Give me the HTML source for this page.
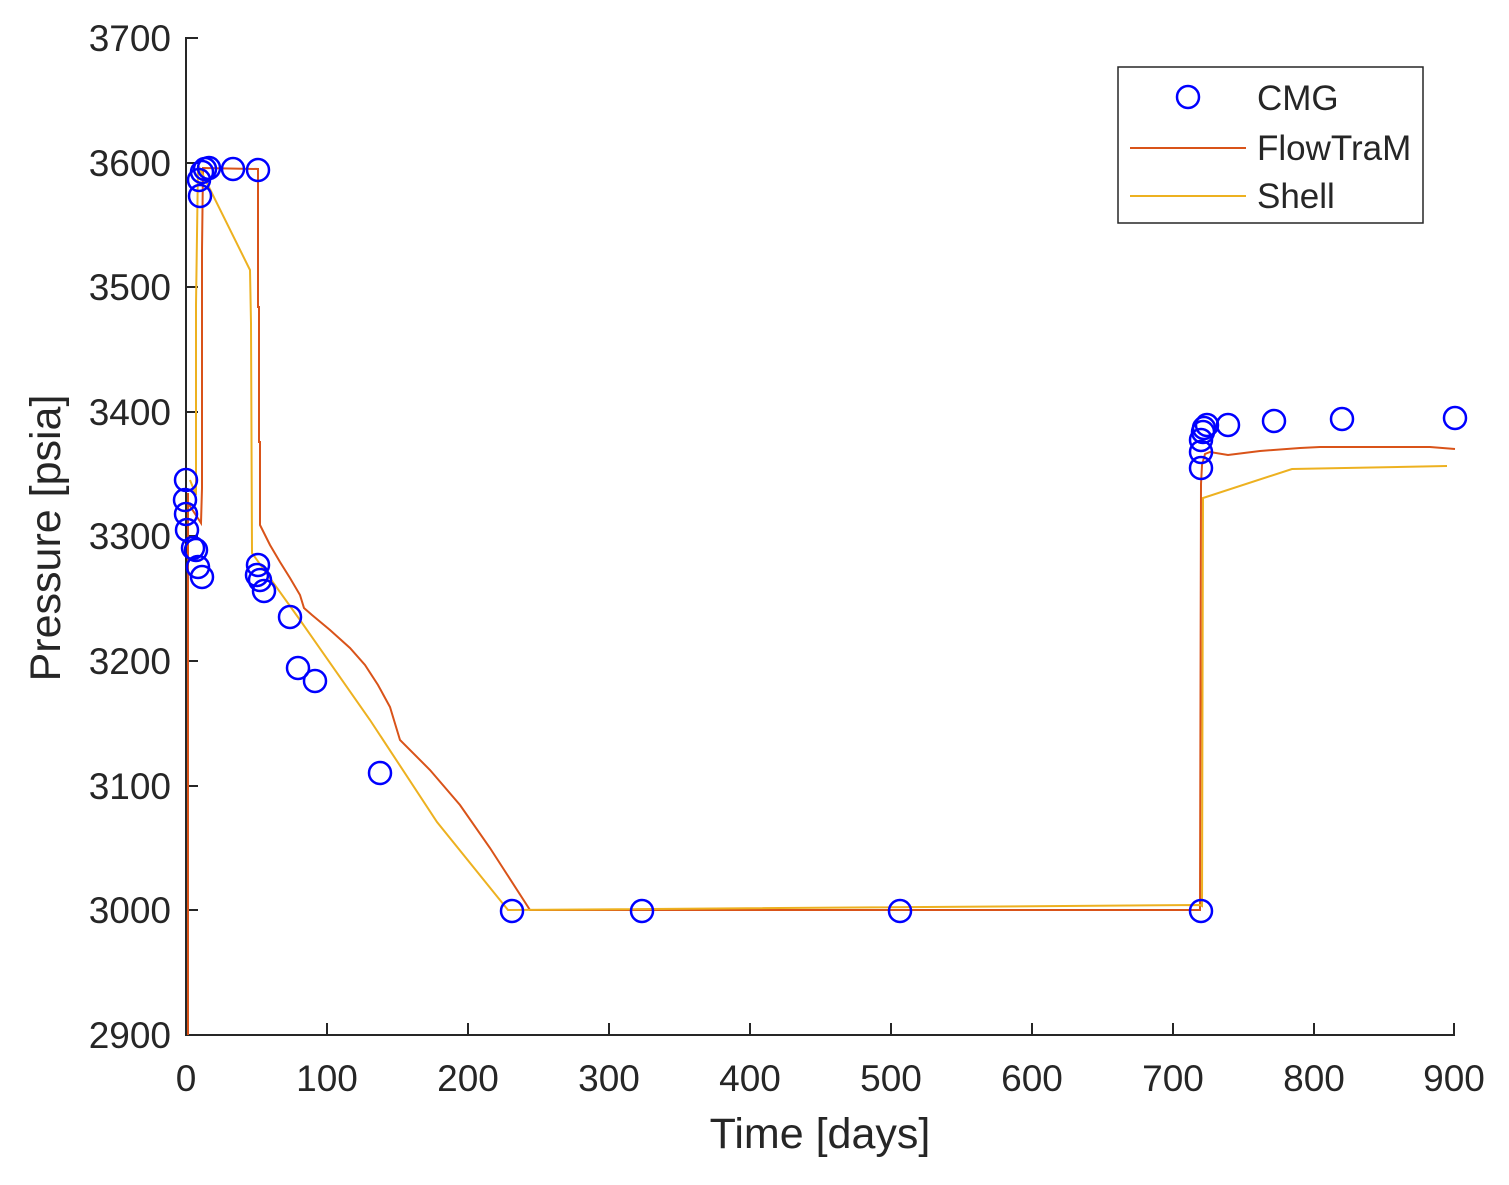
<!DOCTYPE html>
<html><head><style>body{margin:0;background:#fff}svg{display:block}text{font-family:"Liberation Sans",Arial,sans-serif;fill:#262626}</style></head><body>
<svg width="1509" height="1185" viewBox="0 0 1509 1185" xmlns="http://www.w3.org/2000/svg">
<rect width="1509" height="1185" fill="#fff"/>
<g stroke="#262626" stroke-width="2" fill="none">
<line x1="186" y1="37" x2="186" y2="1036"/>
<line x1="185" y1="1035" x2="1455" y2="1035"/>
<path d="M186 38h12M186 163h12M186 287h12M186 412h12M186 536h12M186 661h12M186 786h12M186 910h12"/>
<path d="M327 1035v-12M468 1035v-12M609 1035v-12M750 1035v-12M891 1035v-12M1032 1035v-12M1173 1035v-12M1314 1035v-12M1454 1035v-12"/>
</g>
<g font-size="37" text-anchor="end">
<text x="171" y="51">3700</text><text x="171" y="176">3600</text><text x="171" y="300">3500</text><text x="171" y="425">3400</text><text x="171" y="549">3300</text><text x="171" y="674">3200</text><text x="171" y="799">3100</text><text x="171" y="923">3000</text><text x="171" y="1048">2900</text>
</g>
<g font-size="37" text-anchor="middle">
<text x="186" y="1091">0</text><text x="327" y="1091">100</text><text x="468" y="1091">200</text><text x="609" y="1091">300</text><text x="750" y="1091">400</text><text x="891" y="1091">500</text><text x="1032" y="1091">600</text><text x="1173" y="1091">700</text><text x="1314" y="1091">800</text><text x="1454" y="1091">900</text>
</g>
<text x="820" y="1148" font-size="43" text-anchor="middle">Time [days]</text>
<text transform="translate(60,538) rotate(-90)" font-size="43" text-anchor="middle">Pressure [psia]</text>
<polyline fill="none" stroke="#D95319" stroke-width="2" points="188,1035 188,493 188,503 201,523 202,488 202,250 203,168 258,169 258,307 259,307 259,442 260,442 260,525 270,545 280,562 290,578 300,595 304,608 312,615 330,630 350,648 365,665 378,685 390,707 400,740 430,770 460,805 490,848 530,910 1200,910 1201,484 1202,465 1205,454 1210,452 1228,455 1260,451 1300,448 1320,447 1430,447 1455,449"/>
<polyline fill="none" stroke="#EDB120" stroke-width="2" points="190,480 196,495 196,305 198,165 250,270 251,323 252,553 300,620 370,720 437,822 508,910 1200,905 1202,906 1203,498 1292,469 1447,466"/>
<g fill="none" stroke="#0000FF" stroke-width="2.5">
<circle cx="186" cy="480" r="11"/><circle cx="185" cy="500" r="11"/><circle cx="186" cy="514" r="11"/><circle cx="187" cy="530" r="11"/><circle cx="193" cy="548" r="11"/><circle cx="196" cy="550" r="11"/><circle cx="198" cy="567" r="11"/><circle cx="202" cy="577" r="11"/><circle cx="200" cy="196" r="11"/><circle cx="199" cy="180" r="11"/><circle cx="202" cy="172" r="11"/><circle cx="205" cy="169" r="11"/><circle cx="209" cy="168" r="11"/><circle cx="233" cy="169" r="11"/><circle cx="258" cy="170" r="11"/><circle cx="258" cy="565" r="11"/><circle cx="257" cy="575" r="11"/><circle cx="260" cy="580" r="11"/><circle cx="264" cy="591" r="11"/><circle cx="290" cy="617" r="11"/><circle cx="298" cy="668" r="11"/><circle cx="315" cy="681" r="11"/><circle cx="380" cy="773" r="11"/><circle cx="512" cy="911" r="11"/><circle cx="642" cy="911" r="11"/><circle cx="900" cy="911" r="11"/><circle cx="1201" cy="911" r="11"/><circle cx="1201" cy="468" r="11"/><circle cx="1201" cy="452" r="11"/><circle cx="1201" cy="440" r="11"/><circle cx="1203" cy="432" r="11"/><circle cx="1204" cy="428" r="11"/><circle cx="1207" cy="425" r="11"/><circle cx="1228" cy="425" r="11"/><circle cx="1274" cy="421" r="11"/><circle cx="1342" cy="419" r="11"/><circle cx="1455" cy="418" r="11"/>
</g>
<rect x="1118" y="67" width="305" height="156" fill="#fff" stroke="#262626" stroke-width="1.5"/>
<circle cx="1188" cy="97" r="11" fill="none" stroke="#0000FF" stroke-width="2.5"/>
<line x1="1130" y1="148" x2="1246" y2="148" stroke="#D95319" stroke-width="2"/>
<line x1="1130" y1="196" x2="1246" y2="196" stroke="#EDB120" stroke-width="2"/>
<g font-size="35"><text x="1257" y="110">CMG</text><text x="1257" y="160">FlowTraM</text><text x="1257" y="208">Shell</text></g>
</svg>
</body></html>
